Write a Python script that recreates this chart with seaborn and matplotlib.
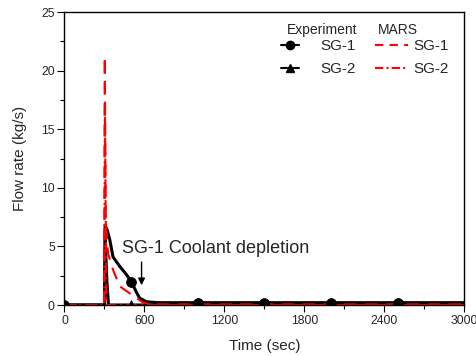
import matplotlib
matplotlib.use("Agg")
import matplotlib.pyplot as plt
import seaborn as sns
import pandas as pd
from matplotlib.lines import Line2D
from matplotlib.ticker import MultipleLocator

# === DATA ===
exp1_time = [0, 300, 305, 320, 339, 364, 414, 464, 501, 539, 563, 613, 700, 3000]
exp1_flow = [0, 0, 6.8, 6.4, 5.6, 4.1, 3.3, 2.6, 2.0, 1.1, 0.6, 0.28, 0.2, 0.2]
exp1_mark_time = [0, 500, 1000, 1500, 2000, 2500]
exp1_mark_flow = [0, 2.0, 0.2, 0.2, 0.2, 0.2]

exp2_time = [0, 300, 306, 318, 330, 3000]
exp2_flow = [0, 0, 5.5, 2.0, 0, 0]
exp2_mark_time = [0, 500, 1000, 1500, 2000, 2500]
exp2_mark_flow = [0, 0, 0, 0, 0, 0]

mars1_time = [0, 298, 302, 310, 327, 364, 414, 489, 539, 590, 650, 3000]
mars1_flow = [0, 0, 21.2, 7.0, 4.4, 3.0, 1.6, 1.0, 0.6, 0.2, 0.05, 0.05]

mars2_time = [0, 298, 303, 314, 3000]
mars2_flow = [0, 0, 17.0, 0, 0]

sns.set_style("ticks")
plt.rcParams["font.family"] = ["Liberation Sans", "DejaVu Sans"]

W, H = 477, 356
fig = plt.figure(figsize=(W / 100, H / 100), dpi=100)
ax = fig.add_axes([64.5 / W, (H - 305) / H, 400 / W, 293 / H])

sns.lineplot(data=pd.DataFrame({"t": exp1_time, "f": exp1_flow}), x="t", y="f",
             ax=ax, color="black", lw=2.2, estimator=None, sort=False)
sns.lineplot(data=pd.DataFrame({"t": exp2_time, "f": exp2_flow}), x="t", y="f",
             ax=ax, color="black", lw=2.2, estimator=None, sort=False)
sns.lineplot(data=pd.DataFrame({"t": mars1_time, "f": mars1_flow}), x="t", y="f",
             ax=ax, color="red", lw=1.5, linestyle=(0, (6, 4)), estimator=None, sort=False)
sns.lineplot(data=pd.DataFrame({"t": mars2_time, "f": mars2_flow}), x="t", y="f",
             ax=ax, color="red", lw=1.5, linestyle=(0, (5, 2, 1, 2)), estimator=None, sort=False)
sns.scatterplot(x=exp1_mark_time, y=exp1_mark_flow, ax=ax, color="black",
                marker="o", s=50, edgecolor="black", zorder=5)
sns.scatterplot(x=exp2_mark_time, y=exp2_mark_flow, ax=ax, color="black",
                marker="^", s=50, edgecolor="black", zorder=5)

ax.set_xlim(0, 3000)
ax.set_ylim(0, 25)
ax.xaxis.set_major_locator(MultipleLocator(600))
ax.xaxis.set_minor_locator(MultipleLocator(300))
ax.yaxis.set_major_locator(MultipleLocator(5))
ax.yaxis.set_minor_locator(MultipleLocator(2.5))
ax.tick_params(which="both", direction="out", top=False, right=False, labelsize=8.7,
               color="black", width=0.8, pad=2)
ax.tick_params(which="major", length=5)
ax.tick_params(which="minor", length=3)
for s in ax.spines.values():
    s.set_color("black")
    s.set_linewidth(1.0)
ax.set_xlabel("Time (sec)", fontsize=11, labelpad=9)
ax.set_ylabel("Flow rate (kg/s)", fontsize=11, labelpad=10)

ax.text(435, 4.8, "SG-1 Coolant depletion", fontsize=13, ha="left", va="center")
ax.annotate("", xy=(578, 1.45), xytext=(578, 3.9),
            arrowprops=dict(arrowstyle="-|>", color="black", lw=1, mutation_scale=10))

# === LEGENDS ===
exp_handles = [
    Line2D([], [], color="black", lw=1.5, marker="o", markersize=6),
    Line2D([], [], color="black", lw=1.5, marker="^", markersize=6),
]
mars_handles = [
    Line2D([], [], color="red", lw=1.5, linestyle=(0, (4, 3))),
    Line2D([], [], color="red", lw=1.5, linestyle=(0, (4, 1.5, 1, 1.5))),
]
leg_kw = dict(frameon=False, loc="upper left", fontsize=11, borderpad=0,
              borderaxespad=0, labelspacing=0.62, bbox_transform=fig.transFigure)
leg1 = ax.legend(exp_handles, ["SG-1", "SG-2"], bbox_to_anchor=(281 / W, (H - 39) / H),
                 handlelength=1.2, handletextpad=1.4, **leg_kw)
ax.add_artist(leg1)
ax.legend(mars_handles, ["SG-1", "SG-2"], bbox_to_anchor=(375 / W, (H - 39) / H),
          handlelength=2.15, handletextpad=0.35, **leg_kw)
fig.text(322 / W, (H - 30) / H, "Experiment", fontsize=10, ha="center", va="center")
fig.text(378 / W, (H - 30) / H, "MARS", fontsize=10, ha="left", va="center")

fig.savefig("out.png", dpi=100)
